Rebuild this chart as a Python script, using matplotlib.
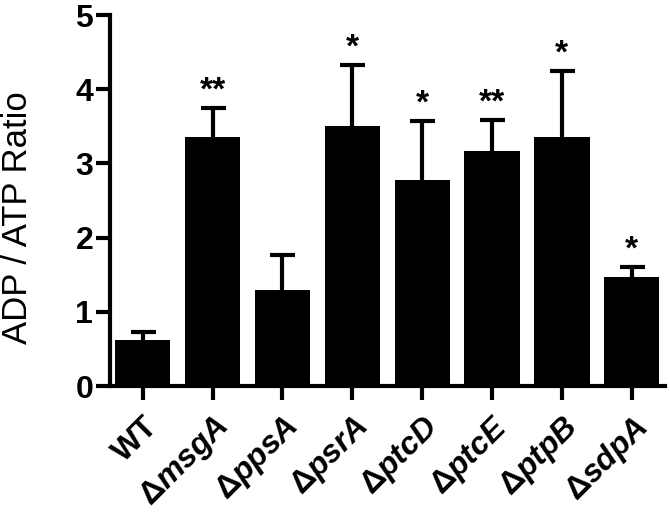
import matplotlib.pyplot as plt
import numpy as np

plt.rcParams['font.family'] = ['Liberation Sans', 'DejaVu Sans']
plt.rcParams['mathtext.fontset'] = 'custom'
plt.rcParams['mathtext.rm'] = 'Liberation Sans:bold'
plt.rcParams['mathtext.it'] = 'Liberation Sans:italic:bold'
plt.rcParams['mathtext.bf'] = 'Liberation Sans:bold'

# Data
strains = ['WT', 'msgA', 'ppsA', 'psrA', 'ptcD', 'ptcE', 'ptpB', 'sdpA']
ratio = [0.62, 3.36, 1.29, 3.50, 2.78, 3.17, 3.36, 1.47]
sem = [0.11, 0.39, 0.48, 0.83, 0.79, 0.41, 0.89, 0.13]
stars = ['', '**', '', '*', '*', '**', '*', '*']

labels = ['WT'] + [r'$\Delta\mathit{%s}$' % s for s in strains[1:]]
x = np.arange(len(strains))

fig = plt.figure(figsize=(6.7, 5.19), dpi=100)
ax = fig.add_axes([0.164, 0.256, 0.829, 0.715])

ax.bar(x, ratio, width=0.79, color='black')
_, caps, _ = ax.errorbar(x, ratio, yerr=[np.zeros(len(x)), sem], fmt='none',
                         ecolor='black', elinewidth=3, capsize=9, capthick=3)
# only the upper caps are wanted
for c in caps:
    if np.allclose(c.get_ydata(), ratio):
        c.set_visible(False)

for xi, v, e, s in zip(x, ratio, sem, stars):
    if s:
        ax.annotate(s, (xi, v + e), xytext=(0, 1), textcoords='offset points',
                    ha='center', va='bottom', fontsize=24, fontweight='bold')

ax.set_xlim(-0.47, 7.48)
ax.set_ylim(0, 5)
ax.set_yticks([0, 1, 2, 3, 4, 5])
ax.set_xticks(x)
ax.set_xticklabels(labels, rotation=45, ha='right', rotation_mode='anchor',
                   fontsize=23, fontweight='bold')
for lab in ax.get_yticklabels():
    lab.set_fontweight('bold')
ax.tick_params(axis='y', labelsize=23, width=3, length=10, pad=2)
ax.tick_params(axis='x', width=3, length=10, pad=8)
ax.set_ylabel('ADP / ATP Ratio', fontsize=25)
ax.yaxis.set_label_coords(-0.137, 0.455)

for side in ['top', 'right']:
    ax.spines[side].set_visible(False)
for side in ['left', 'bottom']:
    ax.spines[side].set_linewidth(3)

plt.savefig('out.png', dpi=100)
